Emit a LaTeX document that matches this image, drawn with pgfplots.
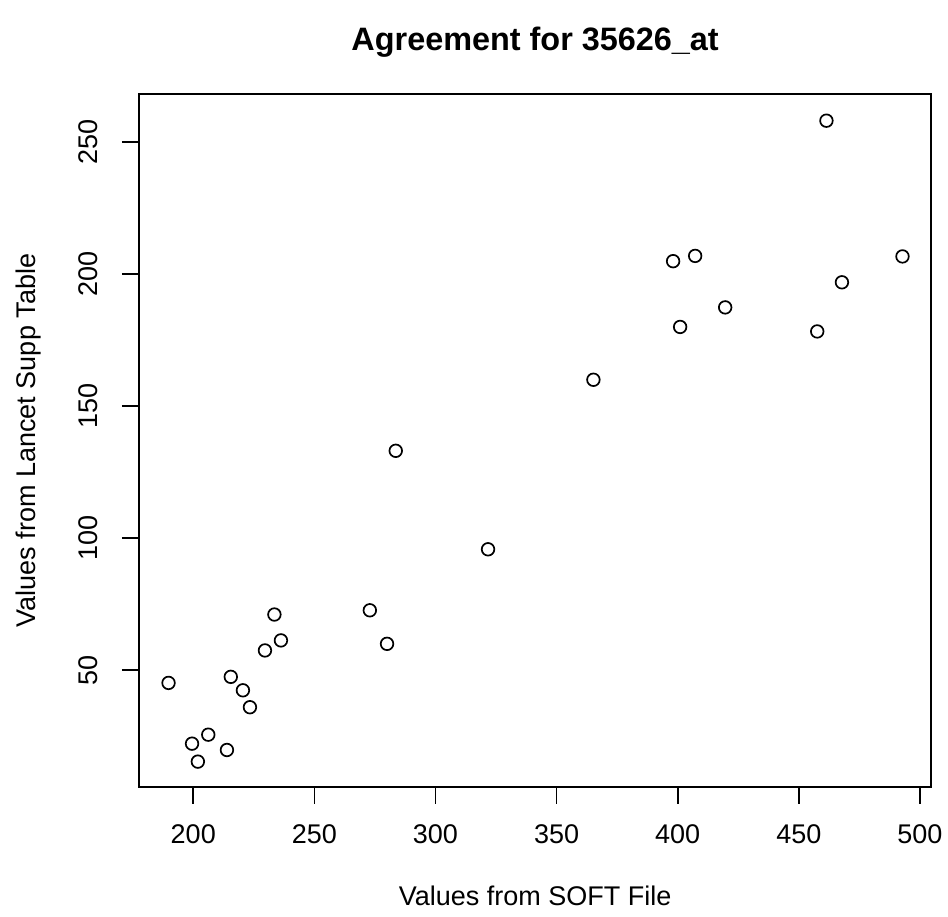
\documentclass[border=0pt]{standalone}
\usepackage{pgfplots}
\pgfplotsset{compat=1.18}
\usepackage{fontspec}
\setmainfont{Liberation Sans}
\begin{document}
\fontsize{27bp}{32bp}\selectfont
\begin{tikzpicture}[x=1bp,y=1bp]
\path[use as bounding box] (-139,-130.3) rectangle (809,786.7);
\begin{axis}[
  at={(0,0)}, anchor=south west,
  scale only axis,
  width=792.3bp, height=692.4bp,
  xmin=177.6, xmax=504.7,
  ymin=5.9, ymax=268.1,
  axis line style={line width=1.7bp},
  every tick/.style={line width=1.7bp, black},
  major tick length=17bp,
  tick align=outside,
  xtick pos=bottom, ytick pos=left,
  xtick={200,250,300,350,400,450,500},
  ytick={50,100,150,200,250},
  /pgf/number format/assume math mode=true,
  ticklabel style={font=\fontsize{27bp}{32bp}\selectfont},
  xticklabel style={anchor=center},
  xticklabel shift=31bp,
  yticklabel style={anchor=center, rotate=90},
  yticklabel shift=33.8bp,
  xlabel={Values from SOFT File},
  ylabel={Values from Lancet Supp Table},
  xlabel style={at={(rel axis cs:0.5,0)}, anchor=base, yshift=-118.3bp, font=\fontsize{27bp}{32bp}\selectfont},
  ylabel style={at={(rel axis cs:0,0.5)}, anchor=base, yshift=103bp, font=\fontsize{27bp}{32bp}\selectfont},
  title={Agreement for 35626\_at},
  title style={at={(rel axis cs:0.5,1)}, anchor=base, yshift=37.5bp, font=\fontsize{32.4bp}{38bp}\selectfont\bfseries},
  clip=false,
]
\addplot[only marks, mark=o, mark size=6.3bp, mark options={line width=1.7bp, black}] coordinates {
(189.8,45.2) (199.5,22.2) (201.9,15.4) (206.2,25.6) (213.9,19.8)
(215.5,47.5) (220.5,42.4) (223.4,36.0) (229.6,57.5) (233.5,71.1)
(236.2,61.3) (272.9,72.7) (280.0,60.0) (283.6,133.1) (321.7,95.8)
(365.2,160.0) (398.1,204.9) (407.2,206.9) (401.0,180.0) (419.6,187.4)
(461.4,258.1) (492.8,206.7) (467.8,196.9) (457.6,178.3)
};
\end{axis}
\end{tikzpicture}
\end{document}
